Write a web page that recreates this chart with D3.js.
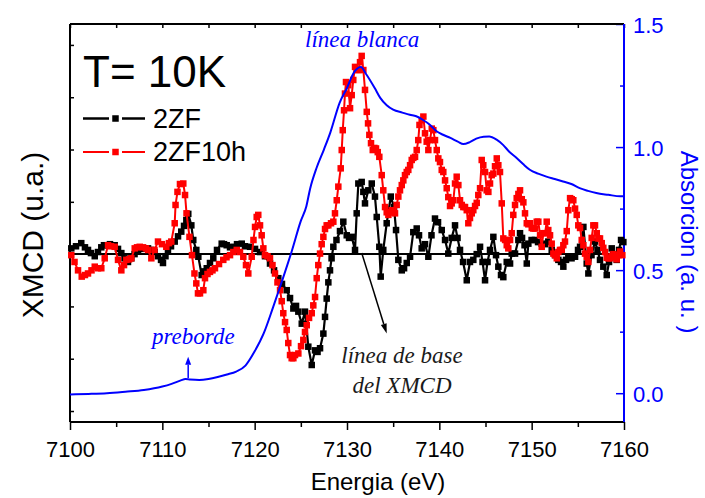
<!DOCTYPE html>
<html><head><meta charset="utf-8">
<script src="https://cdn.jsdelivr.net/npm/d3@7"></script>
<style>body{margin:0;background:#fff}</style>
</head><body><svg id="chart" width="705" height="498"></svg>
<script>
// ---------- data ----------
const energyTicks = [7100, 7110, 7120, 7130, 7140, 7150, 7160];
const energyMinorTicks = [7105, 7115, 7125, 7135, 7145, 7155];
const absorptionTicks = [0, 0.5, 1.0, 1.5];
const absorptionMinorTicks = [0.25, 0.75, 1.25];
const xmcdTicks = [-3, -2, -1, 0, 1, 2, 3, 4];

// [energy (eV), XMCD (u.a.)]
const series2ZF = [[7100.14,0.11],[7100.65,0.15],[7101.22,0.21],[7101.62,0.13],[7101.95,0.08],[7102.27,0.02],[7102.68,-0.04],[7103.03,0.04],[7103.39,0.13],[7103.68,0.17],[7103.93,0.17],[7104.33,0.19],[7104.84,0.17],[7105.2,0.10],[7105.56,0.02],[7105.9,-0.08],[7106.28,-0.15],[7106.64,-0.08],[7106.99,0],[7107.37,0.08],[7107.69,0.10],[7108.07,0.11],[7108.45,0.11],[7108.77,0.08],[7109.17,0.04],[7109.53,-0.04],[7109.86,-0.11],[7110.07,-0.17],[7110.34,-0.04],[7110.61,0.08],[7110.94,0.15],[7111.34,0.24],[7111.7,0.34],[7112.05,0.43],[7112.35,0.54],[7112.6,0.65],[7112.81,0.77],[7113.14,0.55],[7113.35,0.27],[7113.68,0.08],[7113.9,-0.05],[7114.26,-0.40],[7114.51,-0.33],[7114.81,-0.27],[7115.16,-0.17],[7115.52,-0.08],[7115.92,0.08],[7116.43,0.20],[7116.68,0.19],[7116.97,0.17],[7117.33,0.13],[7117.69,0.14],[7118.09,0.19],[7118.6,0.20],[7118.95,0.15],[7119.5,0.14],[7120.04,0.10],[7120.58,0.04],[7121.12,-0.04],[7121.66,-0.18],[7122.1,-0.31],[7122.56,-0.46],[7122.96,-0.57],[7123.47,-0.69],[7123.83,-0.84],[7124.19,-1.04],[7124.48,-0.99],[7124.73,-1.10],[7125.1,-1.33],[7125.45,-1.10],[7125.81,-1.77],[7126.18,-2.12],[7126.54,-1.84],[7126.81,-1.87],[7127.08,-1.80],[7127.44,-1.52],[7127.62,-1.20],[7127.8,-0.85],[7127.98,-0.54],[7128.16,-0.31],[7128.33,-0.08],[7128.52,0.14],[7128.86,0.27],[7129.24,0.44],[7129.6,0.62],[7129.97,0.36],[7130.22,0.31],[7130.51,0.33],[7130.87,0.08],[7131.05,0.78],[7131.23,1.35],[7131.59,1.38],[7131.77,1.19],[7131.95,0.97],[7132.31,1.22],[7132.68,1.35],[7133.03,1.10],[7133.22,0.71],[7133.5,0.14],[7133.65,-0.43],[7133.93,0.08],[7134.3,0.59],[7134.74,1.10],[7135.09,0.90],[7135.31,0.46],[7135.56,-0.11],[7135.93,-0.31],[7136.18,-0.27],[7136.47,-0.17],[7136.83,-0.05],[7137.18,0.42],[7137.55,0.49],[7137.8,0.36],[7138.09,0.11],[7138.45,0.19],[7138.81,-0.05],[7139.15,0.36],[7139.53,0.68],[7139.86,0.61],[7140.26,0.46],[7140.62,0.27],[7140.97,0.01],[7141.34,0.31],[7141.7,0.55],[7141.97,0.31],[7142.24,0.08],[7142.57,-0.15],[7142.97,-0.50],[7143.32,-0.15],[7143.68,-0.11],[7144.05,0],[7144.41,0.14],[7144.68,-0.15],[7144.95,-0.50],[7145.22,-0.15],[7145.49,0.08],[7145.85,0.33],[7146.14,-0.02],[7146.39,-0.24],[7146.68,-0.40],[7146.93,-0.44],[7147.3,-0.15],[7147.66,-0.18],[7147.84,0.01],[7148.2,0.01],[7148.56,0.27],[7148.74,0.40],[7148.96,0.31],[7149.23,0.17],[7149.47,-0.18],[7149.64,0.20],[7149.99,0.27],[7150.36,0.27],[7150.69,0.23],[7151.09,0.20],[7151.45,0.19],[7151.8,0.24],[7152.17,0.08],[7152.53,-0.02],[7152.89,-0.11],[7153.18,-0.15],[7153.43,-0.24],[7153.72,-0.11],[7153.97,-0.05],[7154.32,-0.08],[7154.7,-0.05],[7155.02,0.08],[7155.24,0.14],[7155.6,0.52],[7155.96,-0.18],[7156.14,-0.37],[7156.48,-0.02],[7156.86,0.24],[7157.13,0.08],[7157.4,-0.11],[7157.76,-0.24],[7158.13,-0.40],[7158.38,-0.15],[7158.67,0.11],[7158.92,-0.02],[7159.21,-0.11],[7159.46,0.08],[7159.68,0.27],[7159.93,0.23]];

const series2ZF10h = [[7100.14,-0.02],[7100.49,-0.15],[7100.87,-0.31],[7101.27,-0.43],[7101.62,-0.40],[7101.95,-0.37],[7102.33,-0.31],[7102.68,-0.24],[7103.03,-0.27],[7103.39,-0.27],[7103.76,-0.08],[7104.12,0.17],[7104.44,0.15],[7104.84,0.14],[7105.2,-0.11],[7105.56,-0.31],[7105.85,-0.21],[7106.1,-0.11],[7106.39,-0.10],[7106.64,-0.08],[7107.01,0.11],[7107.26,0.13],[7107.55,0.14],[7107.91,0.13],[7108.23,0.11],[7108.45,0.08],[7108.81,-0.08],[7109.15,0.08],[7109.53,0.24],[7109.96,0.19],[7110.43,0.14],[7110.72,0.21],[7110.97,0.24],[7111.34,0.59],[7111.43,0.94],[7111.64,1.19],[7111.91,1.34],[7112.27,1.35],[7112.46,1.13],[7112.62,0.78],[7112.94,0.33],[7113.21,-0.02],[7113.48,-0.37],[7113.68,-0.56],[7113.86,-0.75],[7114.08,-0.75],[7114.44,-0.69],[7114.62,-0.46],[7114.89,-0.38],[7115.16,-0.34],[7115.43,-0.31],[7115.7,-0.27],[7116.14,-0.19],[7116.6,-0.11],[7116.95,-0.06],[7117.33,-0.02],[7117.69,0.04],[7118.06,0.08],[7118.41,0.04],[7118.77,-0.05],[7119.06,-0.21],[7119.31,-0.37],[7119.68,-0.05],[7119.87,0.27],[7120.04,0.52],[7120.22,0.71],[7120.39,0.75],[7120.58,0.55],[7120.76,0.36],[7120.94,0.11],[7121.12,-0.02],[7121.39,-0.04],[7121.66,-0.08],[7121.93,-0.21],[7122.2,-0.37],[7122.47,-0.54],[7122.75,-0.69],[7122.93,-0.90],[7123.1,-1.13],[7123.29,-1.30],[7123.47,-1.45],[7123.64,-1.70],[7123.83,-1.93],[7124.01,-1.99],[7124.19,-1.99],[7124.37,-1.93],[7124.73,-1.90],[7125.02,-1.76],[7125.27,-1.64],[7125.45,-1.49],[7125.64,-1.36],[7125.89,-1.22],[7126.18,-1.13],[7126.35,-0.98],[7126.54,-0.82],[7126.72,-0.46],[7126.89,-0.21],[7127.08,0.01],[7127.26,0.19],[7127.44,0.33],[7127.62,0.48],[7127.8,0.55],[7127.98,0.55],[7128.27,0.59],[7128.52,0.62],[7128.7,0.78],[7128.89,1.03],[7129.06,1.29],[7129.32,1.64],[7129.43,1.99],[7129.54,2.37],[7129.68,2.75],[7129.78,3.07],[7129.89,3.29],[7130.14,3.23],[7130.33,2.79],[7130.51,3.04],[7130.68,3.33],[7130.87,3.58],[7131.05,3.52],[7131.23,3.52],[7131.41,3.67],[7131.59,3.79],[7131.77,3.52],[7131.95,3.14],[7132.14,2.72],[7132.28,2.50],[7132.42,2.28],[7132.6,2.12],[7132.79,1.99],[7132.96,2.03],[7133.14,2.02],[7133.33,1.95],[7133.5,1.86],[7133.76,1.51],[7133.93,1.22],[7134.12,0.90],[7134.3,0.80],[7134.48,0.75],[7134.66,0.80],[7134.84,0.84],[7135.02,0.80],[7135.2,0.78],[7135.38,0.94],[7135.56,1.10],[7135.74,1.22],[7135.93,1.32],[7136.1,1.41],[7136.28,1.51],[7136.47,1.57],[7136.64,1.61],[7136.83,1.70],[7137.01,1.80],[7137.18,1.84],[7137.37,1.86],[7137.55,1.99],[7137.72,2.18],[7137.85,2.47],[7138.09,2.56],[7138.27,2.63],[7138.45,2.31],[7138.63,2.15],[7138.81,1.99],[7138.99,2.18],[7139.18,2.40],[7139.35,2.37],[7139.53,2.18],[7139.72,1.99],[7139.89,1.83],[7140.07,1.76],[7140.26,1.61],[7140.43,1.57],[7140.62,1.41],[7140.8,1.26],[7140.97,1.09],[7141.16,0.92],[7141.34,0.97],[7141.52,1.03],[7141.7,1.35],[7141.88,1.48],[7142.06,1.32],[7142.24,1.03],[7142.43,0.94],[7142.6,0.90],[7142.78,0.90],[7142.97,0.84],[7143.14,0.59],[7143.32,0.69],[7143.51,0.78],[7143.68,0.84],[7143.87,0.92],[7144.05,0.98],[7144.22,1.13],[7144.41,1.26],[7144.59,1.80],[7144.76,1.70],[7144.95,1.57],[7145.13,1.22],[7145.31,1.19],[7145.49,1.35],[7145.67,1.51],[7145.85,1.54],[7146.03,1.68],[7146.22,1.83],[7146.39,1.70],[7146.57,1.57],[7146.76,0.97],[7146.93,0.30],[7147.12,0.27],[7147.3,0.17],[7147.47,0.11],[7147.66,0.27],[7147.84,0.40],[7148.01,0.75],[7148.2,0.94],[7148.38,1.07],[7148.56,1.15],[7148.74,1.22],[7148.93,1.05],[7149.1,0.99],[7149.28,0.78],[7149.47,0.59],[7149.64,0.57],[7149.82,0.59],[7150.01,0.50],[7150.18,0.49],[7150.36,0.49],[7150.55,0.62],[7150.72,0.62],[7150.91,0.36],[7151.09,0.14],[7151.26,0.40],[7151.45,0.40],[7151.63,0.62],[7151.8,0.46],[7151.99,0.36],[7152.17,0.20],[7152.35,0.01],[7152.53,-0.02],[7152.72,-0.08],[7152.89,0.04],[7153.07,0.08],[7153.26,0.08],[7153.43,0.17],[7153.61,0.24],[7153.8,0.44],[7153.97,0.84],[7154.16,1.07],[7154.34,1.05],[7154.51,1.03],[7154.7,0.87],[7154.88,0.75],[7155.05,0.55],[7155.24,0.50],[7155.42,0.27],[7155.6,0.17],[7155.78,0.01],[7155.96,-0.05],[7156.14,-0.15],[7156.32,0.08],[7156.5,0.31],[7156.68,0.55],[7156.86,0.55],[7157.05,0.40],[7157.22,0.30],[7157.4,0.30],[7157.59,0.21],[7157.76,0.12],[7157.95,0.04],[7158.13,-0.07],[7158.3,-0.08],[7158.49,-0.08],[7158.67,-0.04],[7158.85,0],[7159.03,-0.06],[7159.21,-0.10],[7159.39,-0.02],[7159.57,0.05],[7159.82,-0.02]];

const absorptionEnergy = [7100,7102,7104,7106,7108,7110,7111,7112,7112.5,7113,7114,7115,7116,7117,7118,7119,7120,7121,7122,7123,7124,7125,7125.6,7126,7126.7,7127.5,7128.2,7129.2,7130,7130.7,7131.5,7132.1,7133,7133.6,7134.3,7135,7136,7136.8,7137.5,7138.2,7139,7139.7,7140.4,7141.2,7142,7142.6,7143.3,7144,7144.8,7145.4,7146.2,7146.9,7147.6,7148.4,7149.1,7149.8,7150.7,7151.6,7152.5,7153.4,7154.3,7155.2,7156.1,7157,7158.3,7159.6,7160];
const absorptionValue = [-0.005,-0.003,0.0,0.006,0.013,0.027,0.038,0.052,0.058,0.056,0.054,0.058,0.066,0.076,0.088,0.112,0.17,0.245,0.35,0.46,0.575,0.70,0.76,0.83,0.915,0.99,1.06,1.18,1.24,1.30,1.325,1.295,1.24,1.20,1.17,1.152,1.14,1.131,1.125,1.111,1.09,1.064,1.05,1.037,1.022,1.012,1.02,1.034,1.042,1.043,1.03,1.009,0.98,0.955,0.93,0.908,0.892,0.88,0.87,0.86,0.85,0.833,0.822,0.813,0.806,0.80,0.80];

// ---------- layout ----------
const svg = d3.select("#chart");
const L = 70, R = 624, T = 24, B = 422;
const sans = "'Liberation Sans', Arial, sans-serif";
const serif = "'Liberation Serif', 'Times New Roman', serif";
const BLUE = "#0000ff", RED = "#ff0000";

const x = d3.scaleLinear([7100, 7160], [L, R]);
const yL = d3.scaleLinear([-3.21, 4.40], [B, T]);
const yR = d3.scaleLinear([-0.117, 1.5], [B, T]);

svg.append("rect").attr("width", 705).attr("height", 498).attr("fill", "#fff");

function styleAxis(g, color, fs) {
  g.select(".domain").remove();
  g.selectAll(".tick line").attr("stroke", color).attr("stroke-width", 1.5);
  g.selectAll(".tick text").attr("fill", color).attr("font-family", sans).attr("font-size", fs);
}

// bottom axis
svg.append("g").attr("transform", `translate(0,${B})`)
  .call(d3.axisBottom(x).tickValues(energyTicks).tickSize(8).tickPadding(11).tickFormat(d3.format("d")))
  .call(g => styleAxis(g, "#000", 22));
svg.append("g").attr("transform", `translate(0,${B})`)
  .call(d3.axisBottom(x).tickValues(energyMinorTicks).tickSize(5).tickFormat(""))
  .call(g => styleAxis(g, "#000", 22));
// top axis (inward ticks)
svg.append("g").attr("transform", `translate(0,${T})`)
  .call(d3.axisBottom(x).tickValues(energyTicks.concat(energyMinorTicks)).tickSize(4).tickFormat(""))
  .call(g => styleAxis(g, "#000", 22));
// left axis (inward ticks, no labels)
svg.append("g").attr("transform", `translate(${L},0)`)
  .call(d3.axisRight(yL).tickValues(xmcdTicks).tickSize(4).tickFormat(""))
  .call(g => styleAxis(g, "#000", 22));
// right axis (blue, inward ticks)
svg.append("g").attr("transform", `translate(${R},0)`)
  .call(d3.axisRight(yR).tickValues(absorptionTicks).tickSizeInner(-8).tickSizeOuter(0).tickPadding(9).tickFormat(d3.format(".1f")))
  .call(g => { styleAxis(g, BLUE, 22); g.selectAll(".tick text").attr("dy", "0.38em"); });
svg.append("g").attr("transform", `translate(${R},0)`)
  .call(d3.axisRight(yR).tickValues(absorptionMinorTicks).tickSizeInner(-4).tickSizeOuter(0).tickFormat(""))
  .call(g => styleAxis(g, BLUE, 22));

// frame
const frame = svg.append("g").attr("stroke-width", 2).attr("fill", "none");
frame.append("line").attr("x1", L).attr("x2", R).attr("y1", T).attr("y2", T).attr("stroke", "#000");
frame.append("line").attr("x1", L).attr("x2", R).attr("y1", B).attr("y2", B).attr("stroke", "#000");
frame.append("line").attr("x1", L).attr("x2", L).attr("y1", T).attr("y2", B).attr("stroke", "#000");
frame.append("line").attr("x1", R).attr("x2", R).attr("y1", T).attr("y2", B).attr("stroke", BLUE);

// XMCD baseline
svg.append("line").attr("x1", x(7100)).attr("x2", x(7160)).attr("y1", yL(0)).attr("y2", yL(0))
  .attr("stroke", "#000").attr("stroke-width", 2);

// series
const lineL = d3.line().x(d => x(d[0])).y(d => yL(d[1]));
const MS = 6.5;
function drawSeries(data, color, lw) {
  const g = svg.append("g");
  g.append("path").attr("d", lineL(data)).attr("fill", "none").attr("stroke", color).attr("stroke-width", lw).attr("stroke-linejoin", "round");
  g.selectAll("rect").data(data).join("rect")
    .attr("x", d => x(d[0]) - MS / 2).attr("y", d => yL(d[1]) - MS / 2)
    .attr("width", MS).attr("height", MS).attr("fill", color);
}
drawSeries(series2ZF, "#000", 2.2);
drawSeries(series2ZF10h, RED, 2);

// absorption curve
const absorption = absorptionEnergy.map((e, i) => [e, absorptionValue[i]]);
svg.append("path")
  .attr("d", d3.line().curve(d3.curveMonotoneX).x(d => x(d[0])).y(d => yR(d[1]))(absorption))
  .attr("fill", "none").attr("stroke", BLUE).attr("stroke-width", 2);

// axis titles
svg.append("text").attr("x", 378).attr("y", 490).attr("text-anchor", "middle")
  .attr("font-family", sans).attr("font-size", 24).attr("fill", "#000").text("Energia (eV)");
svg.append("text").attr("transform", "translate(43,235) rotate(-90)").attr("text-anchor", "middle")
  .attr("font-family", sans).attr("font-size", 30).attr("fill", "#000").text("XMCD (u.a.)");
svg.append("text").attr("transform", "translate(681,242) rotate(90)").attr("text-anchor", "middle")
  .attr("font-family", sans).attr("font-size", 24).attr("fill", BLUE).text("Absorcion (a. u. )");

// title + legend
svg.append("text").attr("x", 83).attr("y", 87).attr("font-family", sans).attr("font-size", 44)
  .attr("fill", "#000").text("T= 10K");
const legend = [
  { name: "2ZF", color: "#000", lw: 2.5, y: 118.5, ty: 127.5 },
  { name: "2ZF10h", color: RED, lw: 2, y: 152, ty: 161 }
];
legend.forEach(it => {
  svg.append("line").attr("x1", 83).attr("x2", 109).attr("y1", it.y).attr("y2", it.y).attr("stroke", it.color).attr("stroke-width", it.lw);
  svg.append("line").attr("x1", 122).attr("x2", 145).attr("y1", it.y).attr("y2", it.y).attr("stroke", it.color).attr("stroke-width", it.lw);
  svg.append("rect").attr("x", 115.5 - MS / 2).attr("y", it.y - MS / 2).attr("width", MS).attr("height", MS).attr("fill", it.color);
  svg.append("text").attr("x", 153).attr("y", it.ty).attr("font-family", sans).attr("font-size", 27).attr("fill", "#000").text(it.name);
});

// annotations
svg.append("text").attr("x", 305).attr("y", 47).attr("font-family", serif).attr("font-style", "italic")
  .attr("font-size", 23).attr("fill", BLUE).text("línea blanca");
svg.append("text").attr("x", 152).attr("y", 344).attr("font-family", serif).attr("font-style", "italic")
  .attr("font-size", 23).attr("fill", BLUE).text("preborde");
svg.append("text").attr("x", 402).attr("y", 363).attr("text-anchor", "middle").attr("font-family", serif).attr("font-style", "italic")
  .attr("font-size", 23).attr("fill", "#1a1a1a").text("línea de base");
svg.append("text").attr("x", 402).attr("y", 392.5).attr("text-anchor", "middle").attr("font-family", serif).attr("font-style", "italic")
  .attr("font-size", 23).attr("fill", "#1a1a1a").text("del XMCD");

function arrow(x1, y1, x2, y2, color, lw, hl, hw) {
  const a = Math.atan2(y2 - y1, x2 - x1);
  const bx = x2 - hl * Math.cos(a), by = y2 - hl * Math.sin(a);
  svg.append("line").attr("x1", x1).attr("y1", y1).attr("x2", bx).attr("y2", by)
    .attr("stroke", color).attr("stroke-width", lw);
  const px = -Math.sin(a) * hw / 2, py = Math.cos(a) * hw / 2;
  svg.append("path").attr("d", `M${x2},${y2}L${bx + px},${by + py}L${bx - px},${by - py}Z`).attr("fill", color);
}
arrow(x(7112.8), yR(0.062), x(7112.8), yR(0.148), BLUE, 1.5, 8, 6);
arrow(x(7131.6), yL(0.02), x(7134.3), yL(-1.52), "#000", 1.5, 10, 6);
</script></body></html>
